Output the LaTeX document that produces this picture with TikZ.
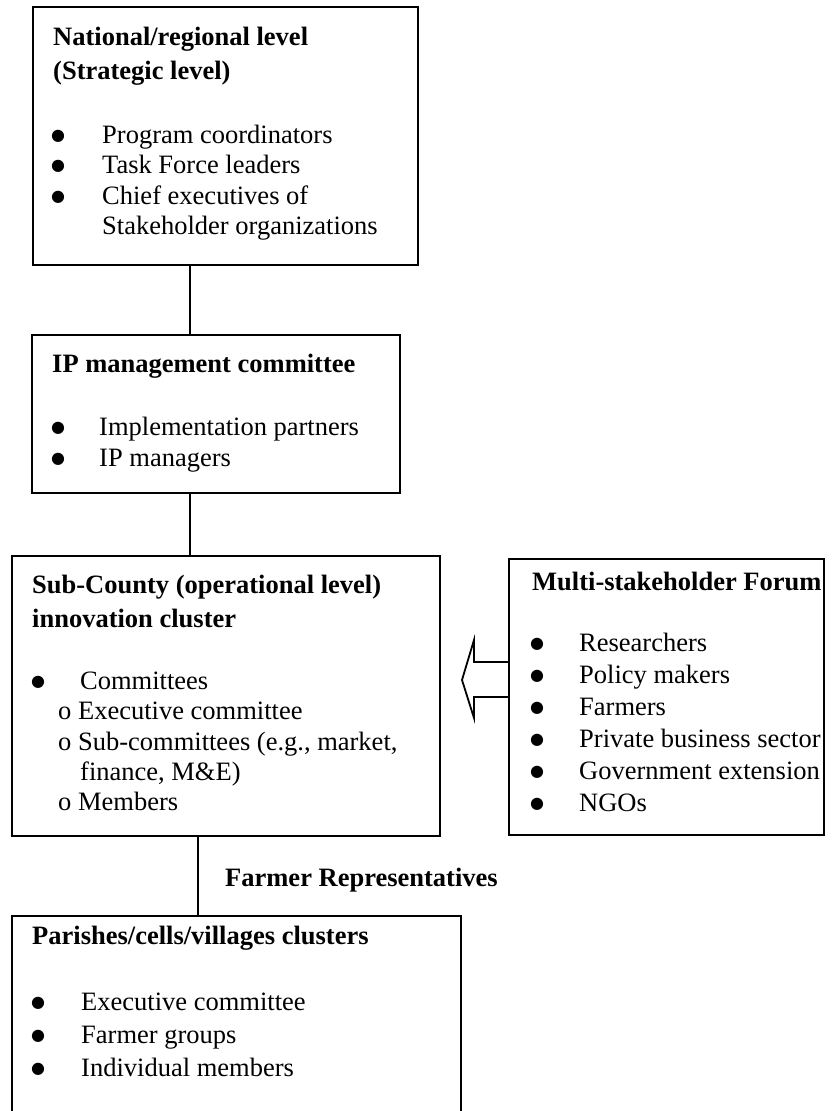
\documentclass[tikz,border=0pt]{standalone}
\usepackage{fontspec}
\setmainfont{Liberation Serif}
\newfontfamily\dejavu{DejaVu Sans}
\newcommand\fsz{\fontsize{26.5}{30.5}\selectfont}
\newcommand\bsz{\dejavu\fontsize{16}{18}\selectfont}
\begin{document}
\begin{tikzpicture}[x=1pt,y=-1pt,
  box/.style={draw, line width=1.8pt, inner sep=0pt, outer sep=0pt, anchor=north west},
  hd/.style={anchor=base west, inner sep=0pt, font=\fsz\bfseries},
  tx/.style={anchor=base west, inner sep=0pt, font=\fsz},
  bul/.style={anchor=base, inner sep=0pt, font=\bsz, yshift=3pt},
  link/.style={line width=1.8pt},
  blockarrow/.style={line width=1.8pt, line join=miter}]
\clip (0,0) rectangle (835,1111);
% boxes
\node[box, minimum width=385pt, minimum height=258pt] (b1) at (33,7) {};
\node[box, minimum width=368pt, minimum height=158pt] (b2) at (32,335) {};
\node[box, minimum width=428pt, minimum height=280pt] (b3) at (12,556) {};
\node[box, minimum width=315pt, minimum height=276pt] (b4) at (509,559) {};
\node[box, minimum width=449pt, minimum height=240pt] (b5) at (12,916) {};
% connectors
\coordinate (cA) at (190,0);
\coordinate (cB) at (198,0);
\draw[link] (cA |- b1.south) -- (cA |- b2.north);
\draw[link] (cA |- b2.south) -- (cA |- b3.north);
\draw[link] (cB |- b3.south) -- (cB |- b5.north);
\node[hd] (frep) at (225,886) {Farmer Representatives};
% block arrow from forum to cluster
\draw[blockarrow] (b4.west |- 0,662) -- (474,662) -- (474,640) -- (462,680)
  -- (474,718) -- (474,697) -- (b4.west |- 0,697);
% box 1
\node[hd] (h1a) at (53,45) {National/regional level};
\node[hd] (h1b) at (53,79) {(Strategic level)};
\node[bul] (d1a) at (58,143) {●};
\node[tx] (i1a) at (102,143) {Program coordinators};
\node[bul] (d1b) at (58,173.5) {●};
\node[tx] (i1b) at (102,173.5) {Task Force leaders};
\node[bul] (d1c) at (58,204) {●};
\node[tx] (i1c) at (102,204) {Chief executives of};
\node[tx] (i1d) at (102,234.5) {Stakeholder organizations};
% box 2
\node[hd] (h2) at (52,372) {IP management committee};
\node[bul] (d2a) at (58,435) {●};
\node[tx] (i2a) at (99,435) {Implementation partners};
\node[bul] (d2b) at (58,466) {●};
\node[tx] (i2b) at (99,466) {IP managers};
% box 3
\node[hd] (h3a) at (32,593) {Sub-County (operational level)};
\node[hd] (h3b) at (32,627) {innovation cluster};
\node[bul] (d3a) at (38,689) {●};
\node[tx] (i3a) at (80,689) {Committees};
\node[tx] (i3b) at (58,719) {o Executive committee};
\node[tx] (i3c) at (58,750) {o Sub-committees (e.g., market,};
\node[tx] (i3d) at (80,780) {finance, M\&E)};
\node[tx] (i3e) at (58,810) {o Members};
% box 4
\node[hd] (h4) at (532,590) {Multi-stakeholder Forum};
\node[bul] (d4a) at (537,651) {●};
\node[tx] (i4a) at (579,651) {Researchers};
\node[bul] (d4b) at (537,683) {●};
\node[tx] (i4b) at (579,683) {Policy makers};
\node[bul] (d4c) at (537,715) {●};
\node[tx] (i4c) at (579,715) {Farmers};
\node[bul] (d4d) at (537,747) {●};
\node[tx] (i4d) at (579,747) {Private business sector};
\node[bul] (d4e) at (537,779) {●};
\node[tx] (i4e) at (579,779) {Government extension};
\node[bul] (d4f) at (537,811) {●};
\node[tx] (i4f) at (579,811) {NGOs};
% box 5
\node[hd] (h5) at (32,944) {Parishes/cells/villages clusters};
\node[bul] (d5a) at (38,1010) {●};
\node[tx] (i5a) at (81,1010) {Executive committee};
\node[bul] (d5b) at (38,1043) {●};
\node[tx] (i5b) at (81,1043) {Farmer groups};
\node[bul] (d5c) at (38,1076) {●};
\node[tx] (i5c) at (81,1076) {Individual members};
\end{tikzpicture}
\end{document}
